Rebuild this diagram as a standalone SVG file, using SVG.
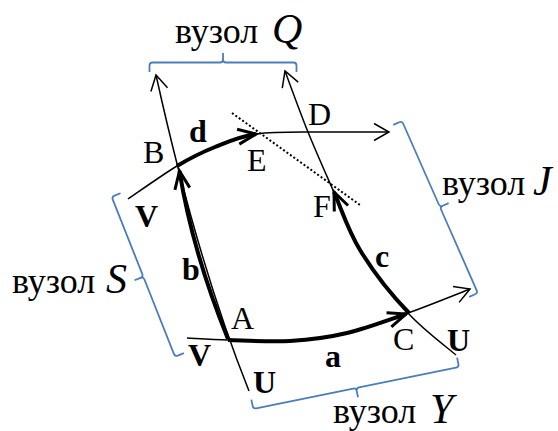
<svg xmlns="http://www.w3.org/2000/svg" width="558" height="431" viewBox="0 0 558 431">
<style>
.thin{fill:none;stroke:#000;stroke-width:1.5}
.thick{fill:none;stroke:#000;stroke-width:4}
.dot{fill:none;stroke:#000;stroke-width:2;stroke-dasharray:2 2.2}
.brace{fill:none;stroke:#4A7EBB;stroke-width:1.8;stroke-linejoin:round}
.lbl{font-family:"Liberation Serif","Times New Roman",serif;font-size:32px;fill:#000}
.bold{font-family:"Liberation Serif","Times New Roman",serif;font-size:32px;font-weight:bold;fill:#000}
.word{font-family:"Liberation Serif","Times New Roman",serif;font-size:36px;fill:#000}
.it{font-family:"Liberation Serif","Times New Roman",serif;font-size:42px;font-style:italic;fill:#000}
</style>
<defs>
<marker id="arrThin" markerUnits="userSpaceOnUse" orient="auto" refX="0" refY="0" markerWidth="1" markerHeight="1" overflow="visible">
<path d="M-15,-8.5 L0,0 L-15,8.5" fill="none" stroke="#000" stroke-width="1.5"/>
</marker>
<marker id="arrThick" markerUnits="userSpaceOnUse" orient="auto" refX="0" refY="0" markerWidth="1" markerHeight="1" overflow="visible">
<path d="M-18,-7.5 L0,0 L-18,7.5" fill="none" stroke="#000" stroke-width="3"/>
</marker>
</defs>
<g id="connectors">
<path class="thin" d="M249,391 Q197,261 156,75" marker-end="url(#arrThin)"/>
<path class="thick" d="M228,339 Q192,250 179.5,171" marker-end="url(#arrThick)"/>
<path class="thin" d="M456,355 C448,348 424,330.5 408,313 C392,295.5 372.5,270.5 360,250 C347.5,229.5 341.7,209.7 333,190 C324.3,170.3 316,151.8 308,132 C300,112.2 288.8,81.2 285,71" marker-end="url(#arrThin)"/>
<path class="thick" d="M409,313 C392,295.5 372.5,270.5 360,250 C347.5,229.5 341.7,209.7 334,192" marker-end="url(#arrThick)"/>
<path class="thin" d="M187,338 C193.8,338.3 210.8,339.5 228,340 C245.2,340.5 270.2,342.2 290,341 C309.8,339.8 327.3,337.7 347,333 C366.7,328.3 387.5,320.3 408,313 C428.5,305.7 459.7,293 470,289" marker-end="url(#arrThin)"/>
<path class="thick" d="M228,340 C245.2,340.5 270.2,342.2 290,341 C309.8,339.8 327.3,337.7 347,333 C366.7,328.3 387.5,320.3 406,314" marker-end="url(#arrThick)"/>
<path class="thin" d="M128,199 C136.2,193.5 162.5,174.7 177,166 C191.5,157.3 201.7,152.3 215,147 C228.3,141.7 239.5,136.5 257,134 C274.5,131.5 298,132.3 320,132 C342,131.7 377.5,132 389,132" marker-end="url(#arrThin)"/>
<path class="thick" d="M177,166 C191.5,157.3 201.7,152.3 215,147 C228.3,141.7 239.5,136.5 256,134" marker-end="url(#arrThick)"/>
<path class="dot" d="M232,113 L360,205"/>
</g>
<g id="node-Q">
<path class="brace" transform="translate(149.5,62.5)" d="M0,9.5 L0,3 Q0,0 3,0 L70.5,0 Q73.5,0 73.5,-3 L73.5,-9.5 M73.5,-3 Q73.5,0 76.5,0 L144,0 Q147,0 147,3 L147,9.5"/>
<text class="word" x="175" y="43">вузол</text><text class="it" x="272" y="43">Q</text>
</g>
<g id="node-S">
<path class="brace" transform="translate(175,356.7) rotate(-111.6)" d="M0,9.5 L0,3 Q0,0 3,0 L83,0 Q86,0 86,-3 L86,-9.5 M86,-3 Q86,0 89,0 L169,0 Q172,0 172,3 L172,9.5"/>
<text class="word" x="12" y="293">вузол</text><text class="it" x="106" y="293">S</text>
</g>
<g id="node-J">
<path class="brace" transform="translate(402,121) rotate(66.2)" d="M0,9.5 L0,3 Q0,0 3,0 L91,0 Q94,0 94,-3 L94,-9.5 M94,-3 Q94,0 97,0 L185,0 Q188,0 188,3 L188,9.5"/>
<text class="word" x="442" y="195">вузол</text><text class="it" x="533" y="195">J</text>
</g>
<g id="node-Y">
<path class="brace" transform="translate(459,367) rotate(168.5)" d="M0,9.5 L0,3 Q0,0 3,0 L102,0 Q105,0 105,-3 L105,-9.5 M105,-3 Q105,0 108,0 L207,0 Q210,0 210,3 L210,9.5"/>
<text class="word" x="333" y="423">вузол</text><text class="it" x="430" y="423">Y</text>
</g>
<g id="points">
<text class="lbl" x="143" y="163">B</text>
<text class="lbl" x="247" y="171">E</text>
<text class="lbl" x="308" y="125">D</text>
<text class="lbl" x="313" y="217">F</text>
<text class="lbl" x="231" y="329">A</text>
<text class="lbl" x="393" y="350">C</text>
</g>
<g id="edge-labels">
<text class="bold" x="189" y="142">d</text>
<text class="bold" x="182" y="280">b</text>
<text class="bold" x="375" y="267">c</text>
<text class="bold" x="325" y="367">a</text>
<text class="bold" x="135" y="227">V</text>
<text class="bold" x="188" y="366">V</text>
<text class="bold" x="253" y="393">U</text>
<text class="bold" x="447" y="351">U</text>
</g>
</svg>
